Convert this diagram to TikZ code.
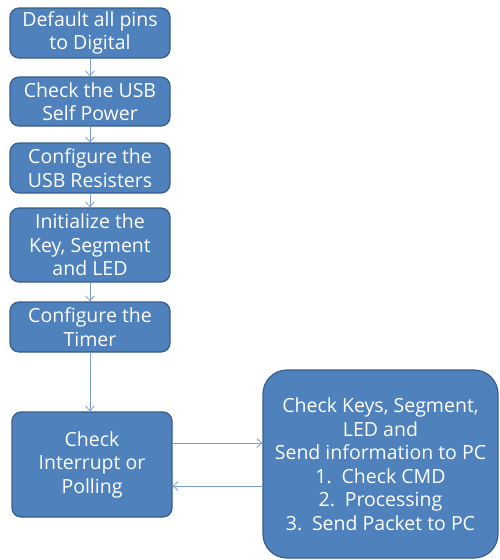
\documentclass[tikz,border=0pt]{standalone}
\usepackage{fontspec}
\setmainfont{Open Sans}
\usetikzlibrary{arrows.meta}
\definecolor{boxfill}{HTML}{4F81BD}
\definecolor{boxline}{HTML}{385D8A}
\definecolor{arrowc}{HTML}{7A9CCB}
\begin{document}
\begin{tikzpicture}[x=1pt,y=-1pt,
  stepbox/.style={draw=boxline, line width=1.2pt, fill=boxfill, rounded corners=9pt,
    text=white, align=center, font=\fontsize{19.5}{23.5}\selectfont, inner sep=0pt},
  conn/.style={draw=arrowc, line width=0.8pt, -{Straight Barb[length=5pt,width=9pt]}}]
\useasboundingbox (0,0) rectangle (499,560);
\node[stepbox, minimum width=160pt, minimum height=50pt] (b1) at (90,33) {Default all pins\\to Digital};
\node[stepbox, minimum width=160pt, minimum height=49pt] (b2) at (90,101.5) {Check the USB\\Self Power};
\node[stepbox, minimum width=160pt, minimum height=50pt] (b3) at (90,168) {Configure the\\USB Resisters};
\node[stepbox, minimum width=160pt, minimum height=74pt] (b4) at (90,245) {Initialize the\\Key, Segment\\and LED};
\node[stepbox, minimum width=160pt, minimum height=50pt] (b5) at (90,327) {Configure the\\Timer};
\node[stepbox, minimum width=160pt, minimum height=105pt] (b6) at (92,464.5) {Check\\Interrupt or\\Polling};
\node[stepbox, rounded corners=24pt, minimum width=235pt, minimum height=188pt] (b7) at (380.5,464) {Check Keys, Segment,\\LED and\\Send information to PC\\1.\enspace Check CMD\\2.\enspace Processing\\3.\enspace Send Packet to PC};
\draw[conn] (b1.south) -- (b2.north);
\draw[conn] (b2.south) -- (b3.north);
\draw[conn] (b3.south) -- (b4.north);
\draw[conn] (b4.south) -- (b5.north);
\draw[conn] (b5.south) -- (b5.south |- b6.north);
\draw[conn] (b6.east |- 0,443) -- (b7.west |- 0,443);
\draw[conn] (b7.west |- 0,486) -- (b6.east |- 0,486);
\end{tikzpicture}
\end{document}
